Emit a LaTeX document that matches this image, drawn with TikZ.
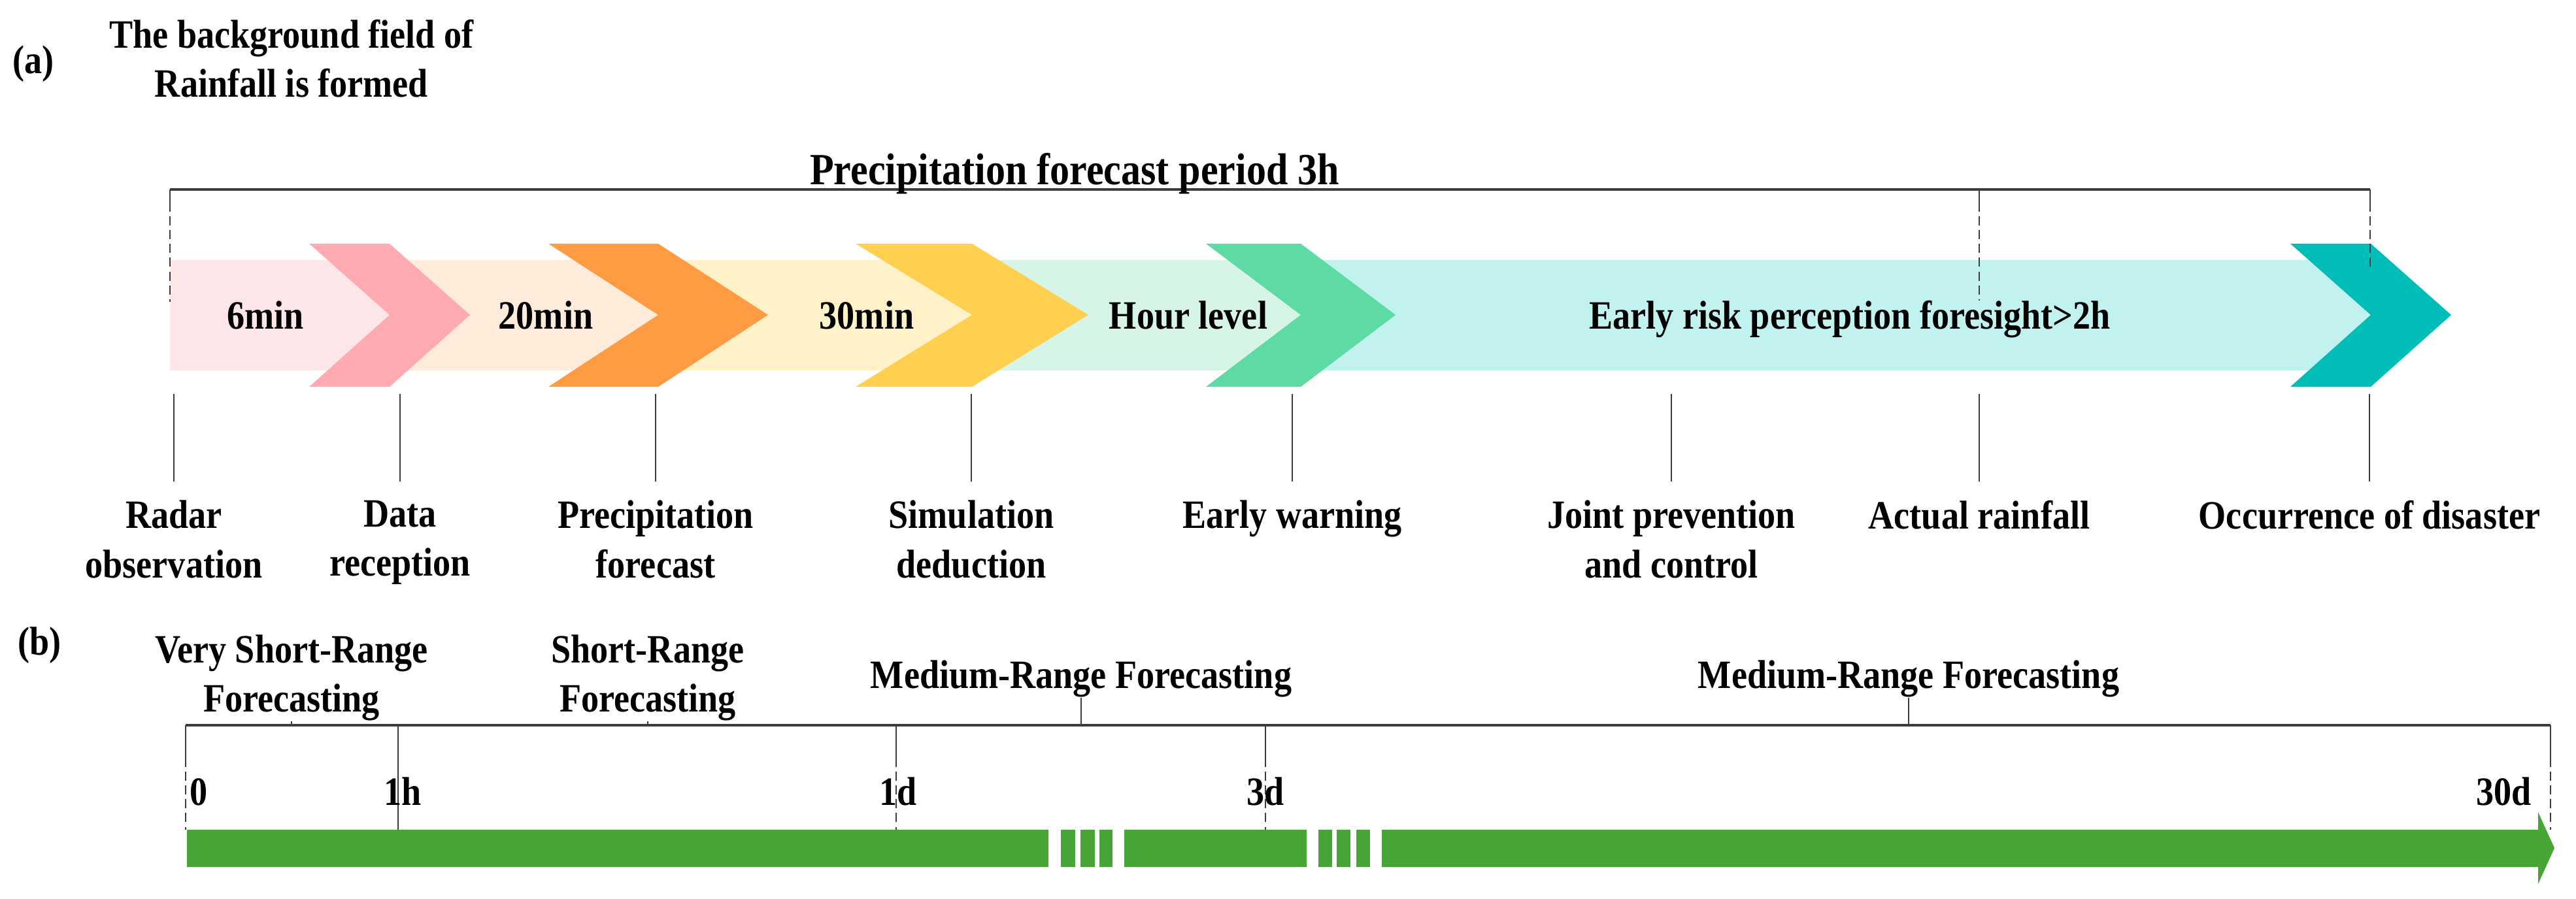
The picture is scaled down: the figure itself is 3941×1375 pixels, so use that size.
\documentclass[tikz,border=0pt]{standalone}
\usepackage{fontspec}
\setmainfont{Liberation Serif}[FakeStretch=0.88]
\usetikzlibrary{positioning}

\definecolor{band1}{RGB}{253,230,232}
\definecolor{chev1}{RGB}{255,171,177}
\definecolor{band2}{RGB}{254,235,218}
\definecolor{chev2}{RGB}{255,155,66}
\definecolor{band3}{RGB}{255,242,200}
\definecolor{chev3}{RGB}{255,207,80}
\definecolor{band4}{RGB}{214,245,230}
\definecolor{chev4}{RGB}{94,219,164}
\definecolor{band5}{RGB}{194,242,240}
\definecolor{chev5}{RGB}{0,190,183}
\definecolor{barGreen}{RGB}{70,165,52}
\definecolor{lineGray}{RGB}{60,60,60}

\newcommand{\figfont}{\fontsize{17.5}{21.5}\selectfont\bfseries}
% chevron: left x, depth, colour
\newcommand{\drawchevron}[3]{%
  \fill[#3] (#1,373) -- ++(#2,0) -- ++(#2,109) -- ++(-#2,110) -- ++(-#2,0) -- ++(#2,-110) -- cycle;}

\begin{document}
\begin{tikzpicture}
  [x=0.01cm, y=-0.01cm,
    txt/.style={font=\figfont, inner sep=0pt},
    lbl/.style={font=\figfont, align=center, inner xsep=0pt, inner ysep=0.28cm},
    rng/.style={font=\figfont, align=center, inner sep=0pt},
    guide/.style={draw=lineGray, line width=0.5pt},
    guidedash/.style={guide, dash pattern=on 4pt off 2pt},
    axis/.style={draw=lineGray, line width=0.9pt},
  ]
  \useasboundingbox (0,0) rectangle (3941,1375);

  % Part (a) heading
  \node[txt, anchor=base west] (pa) at (19,112) {(a)};
  \node[rng, anchor=north] (rain) at (446,29) {The background field of\\Rainfall is formed};

  % Bands and chevrons
  \foreach \a/\b/\c in {260/596/band1, 596/1007/band2, 1007/1487/band3,
                        1487/1990/band4, 1990/3627/band5}
    \fill[\c] (\a,398) rectangle (\b,567);
  \drawchevron{473}{123}{chev1}
  \drawchevron{839}{168}{chev2}
  \drawchevron{1309}{178}{chev3}
  \drawchevron{1845}{145}{chev4}
  \drawchevron{3504}{123}{chev5}

  \foreach \x/\t [count=\i] in {406/6min, 835/20min, 1326/30min, 1818/Hour level,
                                2830/Early risk perception foresight>2h}
    \node[txt, anchor=base] (s\i) at (\x,503) {\t};

  % Forecast period bracket
  \coordinate (pl) at (260,290);
  \coordinate (pm) at (3028,290);
  \coordinate (pr) at (3626,290);
  \draw[axis] (pl) -- (pr);
  \node[font=\fontsize{19.4}{23}\selectfont\bfseries, inner sep=0pt, anchor=base]
    (period) at (1644,282) {Precipitation forecast period 3h};
  \foreach \c/\e in {pl/152, pm/150, pr/105} {
    \draw[guide] (\c) -- ++(0,20);
    \draw[guidedash] (\c) ++(0,20) -- ++(0,\e);
  }

  % Stages
  \foreach \x/\t [count=\i] in {266/Radar\\observation, 612/Data\\reception,
      1003/Precipitation\\forecast, 1486/Simulation\\deduction, 1977/Early warning,
      2557/Joint prevention\\and control, 3028/Actual rainfall,
      3625/Occurrence of disaster} {
    \coordinate (r\i) at (\x,603);
    \node[lbl] (l\i) [below=1.34cm of r\i] {\t};
    \draw[guide] (r\i) -- (l\i);
  }

  % Part (b)
  \node[txt, anchor=base west] (pb) at (27,1002) {(b)};
  \coordinate (t0) at (284,1110);
  \coordinate (t1h) at (609,1110);
  \coordinate (t1d) at (1371,1110);
  \coordinate (t3d) at (1936,1110);
  \coordinate (t30) at (3902,1110);
  \draw[axis] (t0) -- (t30);

  \coordinate (m1) at (446,1110);
  \coordinate (m2) at (991,1110);
  \coordinate (m3) at (1654,1110);
  \coordinate (m4) at (2920,1110);
  \node[rng] (vsr) [above=0.06cm of m1] {Very Short-Range\\Forecasting};
  \node[rng] (sr) [above=0.06cm of m2] {Short-Range\\Forecasting};
  \node[rng] (mr1) [above=0.42cm of m3] {Medium-Range Forecasting};
  \node[rng] (mr2) [above=0.42cm of m4] {Medium-Range Forecasting};
  \foreach \n/\m in {vsr/m1, sr/m2, mr1/m3, mr2/m4}
    \draw[guide] (\n) -- (\m);

  % Ticks
  \foreach \c in {t0, t1d, t3d, t30} {
    \draw[guide] (\c) -- ++(0,50);
    \draw[guidedash] (\c) ++(0,50) -- ++(0,110);
  }
  \draw[guide] (t1h) -- ++(0,160);
  \node[txt, anchor=base west] (n0) at (290,1232) {0};
  \node[txt, anchor=base] (n1h) at (616,1232) {1h};
  \node[txt, anchor=base] (n1d) at (1374,1232) {1d};
  \node[txt, anchor=base] (n3d) at (1936,1232) {3d};
  \node[txt, anchor=base east] (n30) at (3873,1232) {30d};

  % Green time bar
  \foreach \a/\b in {286/1604, 1623/1645, 1653/1675, 1682/1702, 1720/1999,
                     2017/2038, 2045/2066, 2075/2096}
    \fill[barGreen] (\a,1270) rectangle (\b,1327);
  \fill[barGreen] (2114,1270) -- (3883,1270) -- (3883,1243) -- (3908,1298)
    -- (3883,1353) -- (3883,1327) -- (2114,1327) -- cycle;
\end{tikzpicture}
\end{document}
